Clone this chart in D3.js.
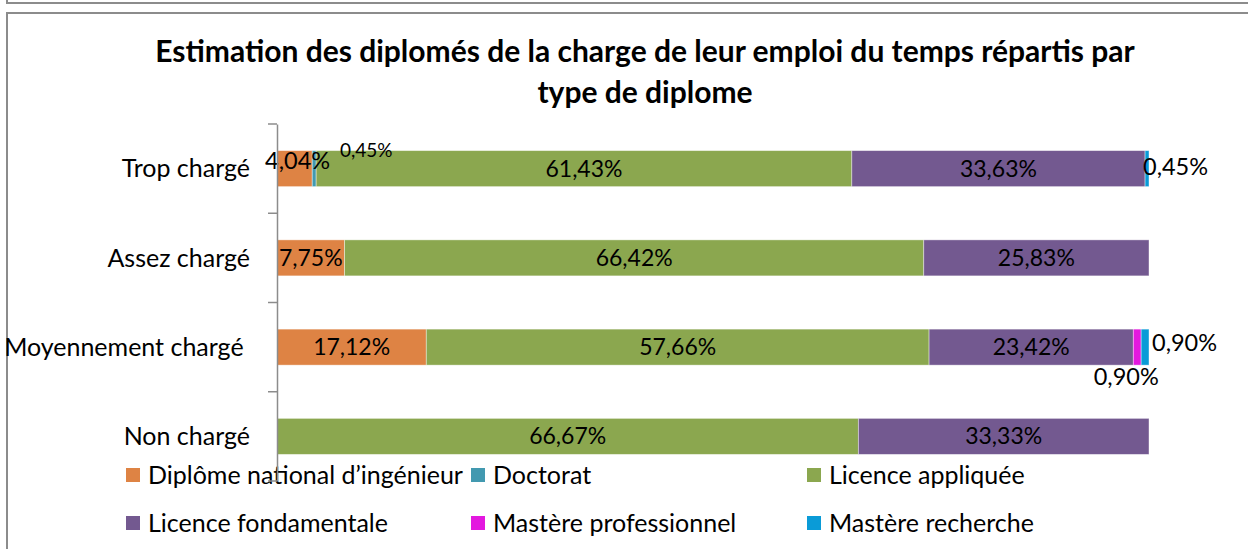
<!DOCTYPE html>
<html>
<head>
<meta charset="utf-8">
<script src="https://cdn.jsdelivr.net/npm/d3@7"></script>
<style>
  body { margin: 0; background: #fff; }
  svg { display: block; font-family: Lato, "Noto Sans", sans-serif; }
</style>
</head>
<body>
<svg id="chart" width="1248" height="549"></svg>
<script>
// categories (top to bottom)
const categories = ["Trop chargé", "Assez chargé", "Moyennement chargé\u00a0", "Non chargé"];
const seriesNames = ["Diplôme national d’ingénieur", "Doctorat", "Licence appliquée",
                     "Licence fondamentale", "Mastère professionnel", "Mastère recherche"];
// values in %
const ingenieur = [4.04, 7.75, 17.12, 0];
const doctorat = [0.45, 0, 0, 0];
const licenceAppliquee = [61.43, 66.42, 57.66, 66.67];
const licenceFondamentale = [33.63, 25.83, 23.42, 33.33];
const mastereProfessionnel = [0, 0, 0.90, 0];
const mastereRecherche = [0.45, 0, 0.90, 0];
const seriesColors = ["#DE8344", "#4299B0", "#8BA74F", "#735990", "#E318DF", "#0A9BD7"];

const title = ["Estimation des diplomés de la charge de leur emploi du temps répartis par",
               "type de diplome"];

const svg = d3.select("#chart");

// outer frames
svg.append("path")
  .attr("d", "M7,0V3H1248")
  .attr("fill", "none").attr("stroke", "#8c8c8c").attr("stroke-width", 2);
svg.append("path")
  .attr("d", "M1248,13H7V549")
  .attr("fill", "none").attr("stroke", "#8c8c8c").attr("stroke-width", 2);

// title
svg.selectAll(".title")
  .data(title)
  .enter()
  .append("text")
  .attr("class", "title")
  .attr("x", 645)
  .attr("y", (d, i) => 62 + i * 41)
  .attr("text-anchor", "middle")
  .attr("font-weight", "bold")
  .attr("font-size", 30)
  .text(d => d);

// table for the stack
const table = categories.map((c, i) => ({
  cat: c,
  s0: ingenieur[i], s1: doctorat[i], s2: licenceAppliquee[i],
  s3: licenceFondamentale[i], s4: mastereProfessionnel[i], s5: mastereRecherche[i]
}));
const keys = ["s0", "s1", "s2", "s3", "s4", "s5"];
const stacked = d3.stack().keys(keys)(table);

const x = d3.scaleLinear().domain([0, 100]).range([277, 1149]);
const band = d3.scaleBand().domain(categories).range([124, 481]);

// bars
const layer = svg.selectAll(".layer")
  .data(stacked)
  .enter()
  .append("g")
  .attr("fill", (d, i) => seriesColors[i]);

layer.selectAll("rect")
  .data(d => d.map(v => ({ v: v, cat: v.data.cat })))
  .enter()
  .append("rect")
  .attr("x", d => x(d.v[0]))
  .attr("width", d => x(d.v[1]) - x(d.v[0]))
  .attr("y", d => band(d.cat) + band.bandwidth() / 2 - 18)
  .attr("height", 36)
  .attr("stroke", d => (d.v[1] - d.v[0]) > 0 ? "#ffffff" : "none")
  .attr("stroke-opacity", 0.5)
  .attr("stroke-width", 0.8);

// axis
const axis = svg.append("g")
  .attr("transform", "translate(277,0)")
  .call(d3.axisLeft(band).tickSize(0).tickFormat(""));
axis.select(".domain").attr("stroke", "#8c8c8c").attr("stroke-width", 1.5);
// category separators as ticks
const sepPos = categories.map(c => band(c)).concat([band.range()[1]]);
axis.selectAll(".sep")
  .data(sepPos)
  .enter()
  .append("line")
  .attr("x1", -9).attr("x2", 0)
  .attr("y1", d => d).attr("y2", d => d)
  .attr("stroke", "#8c8c8c").attr("stroke-width", 1.5);

svg.selectAll(".cat")
  .data(categories)
  .enter()
  .append("text")
  .attr("x", 250)
  .attr("y", d => band(d) + band.bandwidth() / 2)
  .attr("dy", "0.35em")
  .attr("text-anchor", "end")
  .attr("font-size", 25)
  .style("white-space", "pre")
  .text(d => d);

// labels: special placement for the thin segments
const special = {
  "s0|0": { dx: 3, dy: -8, anchor: "middle", size: 23.5, from: "mid" },
  "s1|0": { dx: 52, dy: -18, anchor: "middle", size: 19, from: "mid" },
  "s5|0": { dx: -6, dy: -2, anchor: "start", size: 23.5, from: "end" },
  "s4|2": { dx: -11, dy: 30, anchor: "middle", size: 23.5, from: "mid" },
  "s5|2": { dx: 3, dy: -4, anchor: "start", size: 23.5, from: "end" }
};
const fmt = v => v.toFixed(2).replace(".", ",") + "%";

stacked.forEach((s, si) => {
  s.forEach((v, ci) => {
    const val = v[1] - v[0];
    if (val <= 0) return;
    const sp = special[s.key + "|" + ci] || { dx: 0, dy: 0, anchor: "middle", size: 23, from: "mid" };
    const cy = band(v.data.cat) + band.bandwidth() / 2;
    const bx = sp.from === "end" ? x(v[1]) : (x(v[0]) + x(v[1])) / 2;
    svg.append("text")
      .attr("x", bx + sp.dx)
      .attr("y", cy + sp.dy)
      .attr("dy", "0.35em")
      .attr("text-anchor", sp.anchor)
      .attr("font-size", sp.size)
      .attr("fill", "#000")
      .text(fmt(val));
  });
});

// legend
const legendX = [126, 471, 807];
const legendY = [475, 523];
const legend = svg.selectAll(".legend")
  .data(seriesNames)
  .enter()
  .append("g")
  .attr("transform", (d, i) => `translate(${legendX[i % 3]},${legendY[Math.floor(i / 3)]})`);
legend.append("rect")
  .attr("x", 0).attr("y", -7)
  .attr("width", 14).attr("height", 14)
  .attr("fill", (d, i) => seriesColors[i]);
legend.append("text")
  .attr("x", 22)
  .attr("dy", "0.35em")
  .attr("font-size", 25)
  .text(d => d);

// axis line drawn on top of the legend
svg.node().appendChild(axis.node());
</script>
</body>
</html>
